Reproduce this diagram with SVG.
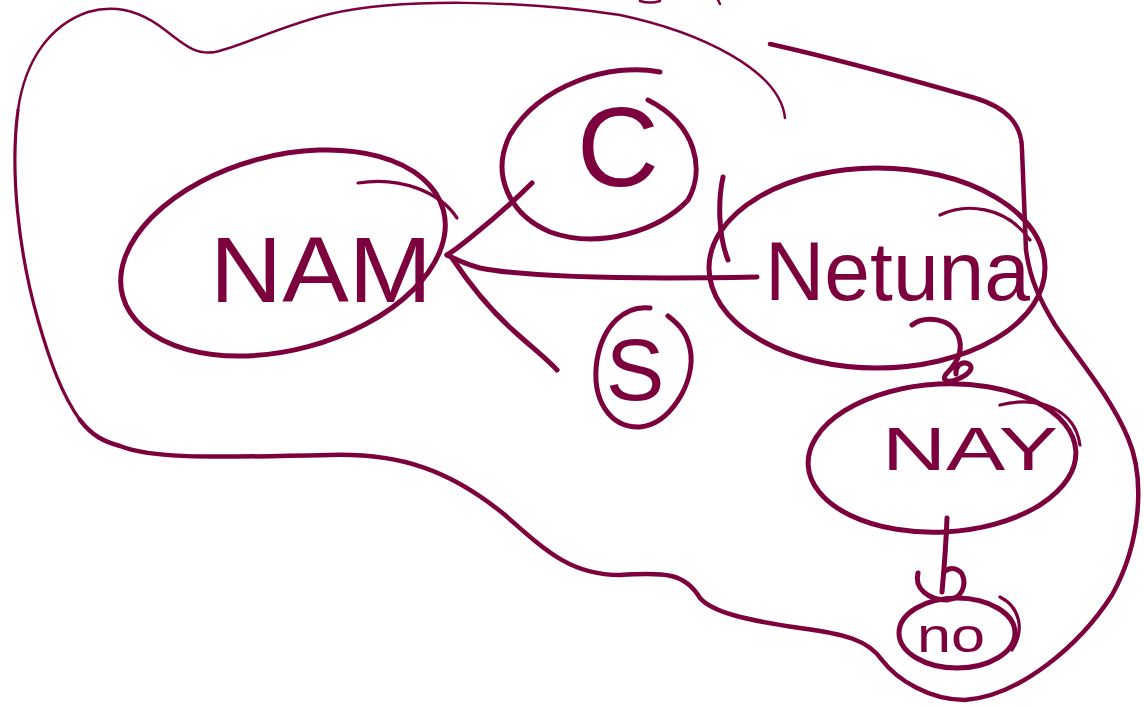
<svg xmlns="http://www.w3.org/2000/svg" width="1144" height="706" viewBox="0 0 1144 706">
<style>
.s{fill:none;stroke:#7d003e;stroke-linecap:round;stroke-linejoin:round;stroke-width:5}
.thin{stroke-width:2.5}
.mid{stroke-width:3.2}
.bd{stroke-width:4.5}
.t{fill:#7d003e;font-family:"Liberation Sans",Arial,sans-serif}
</style>
<rect width="1144" height="706" fill="#ffffff"/>
<g id="boundary">
<path class="s thin" d="M785,118 C780,70 700,32 620,15 C520,0 400,-2 330,14 C280,26 245,45 215,52 C195,55 185,45 165,30 C140,10 115,4 88,12 C50,25 25,60 18,110"/>
<path class="s mid" d="M18,110 C10,170 18,250 38,320 C50,362 62,395 80,420"/>
<path class="s bd" d="M80,420 C92,436 105,442 120,446 C150,458 200,458 330,455 C400,453 450,470 505,515 C545,550 570,575 620,575 C665,572 685,573 700,598 C712,612 745,620 800,628 C845,634 868,640 882,660 C897,680 930,700 965,700 C1020,696 1080,645 1112,595 C1140,545 1146,480 1128,438 C1110,395 1075,355 1055,325 C1040,300 1030,280 1026,250 L1022,150 C1022,125 1008,108 975,98 C930,85 850,62 770,44"/>
<path class="s thin" d="M640,1 Q650,4 660,1 M718,0 L720,4"/>
</g>
<g id="connectors">
<path class="s" d="M757,277 C650,279 530,278 480,268 C465,264 455,259 447,255"/>
<path class="s" d="M532,183 C510,205 490,222 470,238 C460,246 452,252 447,255"/>
<path class="s" d="M452,258 C470,285 490,310 515,332 C535,350 548,360 557,370"/>
<path class="s" d="M912,325 C925,315 950,318 958,335 C965,352 955,365 947,373 C940,380 948,384 958,379 C970,374 976,366 966,363 C960,362 955,368 956,374"/>
<path class="s" d="M947,518 C946,545 944,570 942,592"/>
<path class="s" d="M918,573 C914,588 928,600 947,600 C962,599 967,585 962,574 C956,566 948,568 944,572"/>
</g>
<g id="node-nam">
<ellipse class="s" cx="283" cy="253" rx="166" ry="97" transform="rotate(-15 283 253)"/>
<path class="s mid" d="M358,183 C400,176 440,192 457,218"/>
<text class="t" x="210" y="302" font-size="92" textLength="222" lengthAdjust="spacingAndGlyphs">NAM</text>
</g>
<g id="node-c">
<path class="s" d="M660,72 C610,62 540,85 510,135 C490,175 510,215 550,232 C600,250 660,230 688,200 C705,170 697,125 648,100"/>
<text class="t" x="618" y="186" font-size="114" text-anchor="middle">C</text>
</g>
<g id="node-s">
<path class="s" d="M650,308 C625,305 603,325 597,360 C591,400 610,428 640,427 C670,424 693,385 691,355 C689,335 680,325 668,316"/>
<text class="t" x="635" y="400" font-size="88" text-anchor="middle">S</text>
</g>
<g id="node-netuna">
<ellipse class="s" cx="877" cy="268" rx="168" ry="100"/>
<path class="s" d="M723,177 C718,200 718,235 728,260"/>
<path class="s mid" d="M940,215 C965,203 1005,205 1030,240"/>
<text class="t" x="765" y="300" font-size="84" textLength="265" lengthAdjust="spacingAndGlyphs">Netuna</text>
</g>
<g id="node-nay">
<ellipse class="s" cx="942" cy="458" rx="134" ry="74" transform="rotate(-3 942 458)"/>
<path class="s mid" d="M1000,405 C1040,395 1075,410 1080,445"/>
<text class="t" x="882" y="470" font-size="62" textLength="176" lengthAdjust="spacingAndGlyphs">NAY</text>
</g>
<g id="node-no">
<ellipse class="s" cx="957" cy="633" rx="58" ry="35"/>
<path class="s mid" d="M1000,597 C1020,607 1025,630 1012,650"/>
<text class="t" x="917" y="652" font-size="48" textLength="68" lengthAdjust="spacingAndGlyphs">no</text>
</g>
</svg>
